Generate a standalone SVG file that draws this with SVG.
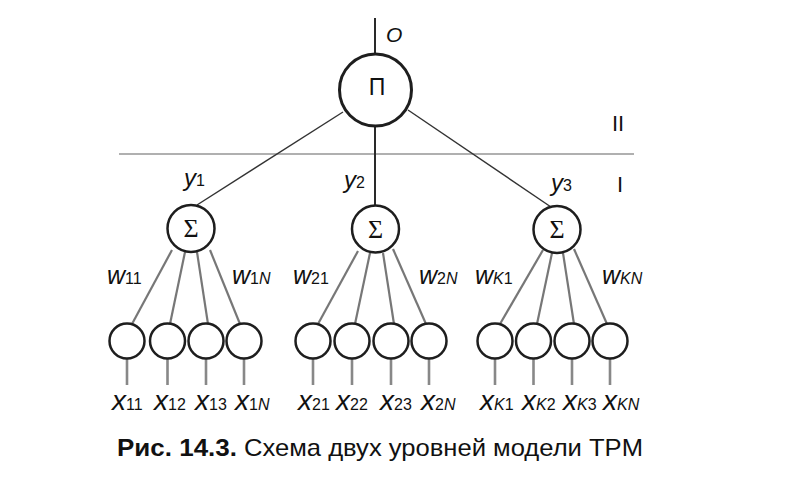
<svg xmlns="http://www.w3.org/2000/svg" width="800" height="478" viewBox="0 0 800 478">
<style>
  .bg{fill:#ffffff}
  .node{fill:#ffffff;stroke:#1e1e1e;stroke-width:2.5}
  .big{fill:#ffffff;stroke:#1e1e1e;stroke-width:3}
  .dark{stroke:#2a2a2a;stroke-width:2;fill:none}
  .thin{stroke:#333333;stroke-width:1.4;fill:none}
  .grey{stroke:#777777;stroke-width:2.2;fill:none}
  .stem{stroke:#888888;stroke-width:2.6;fill:none}
  .level{stroke:#b0b0b0;stroke-width:2;fill:none}
  .lab{font-family:"Liberation Sans",Arial,sans-serif;fill:#111111}
  .it{font-style:italic}
  .w{font-size:25px}
  .x{font-size:28px}
  .y{font-size:24px}
  .sub{font-size:16px;font-style:normal}
  .subi{font-size:16px;font-style:italic}
  .sig{font-family:"Liberation Serif","Times New Roman",serif;font-size:26px;fill:#111111}
  .cap{font-family:"Liberation Sans",Arial,sans-serif;font-size:24px;fill:#111111}
</style>
<rect class="bg" x="0" y="0" width="800" height="478"/>

<g id="connectors">
  <line class="dark" x1="375" y1="18" x2="375" y2="54"/>
  <line class="level" x1="119" y1="154" x2="634" y2="154"/>
  <line class="thin" x1="343" y1="112" x2="197" y2="205"/>
  <line class="dark" x1="375" y1="126" x2="375" y2="206"/>
  <line class="thin" x1="408" y1="110" x2="551" y2="207"/>
  <!-- group 1 -->
  <line class="grey" x1="172" y1="250" x2="132" y2="324"/>
  <line class="grey" x1="185" y1="252" x2="170" y2="324"/>
  <line class="grey" x1="197" y1="252" x2="208" y2="324"/>
  <line class="grey" x1="210" y1="250" x2="240" y2="324"/>
  <!-- group 2 -->
  <line class="grey" x1="358" y1="251" x2="318" y2="324"/>
  <line class="grey" x1="370" y1="253" x2="355" y2="324"/>
  <line class="grey" x1="383" y1="253" x2="394" y2="324"/>
  <line class="grey" x1="393" y1="249" x2="426" y2="324"/>
  <!-- group 3 -->
  <line class="grey" x1="543" y1="250" x2="500" y2="324"/>
  <line class="grey" x1="552" y1="253" x2="537" y2="324"/>
  <line class="grey" x1="563" y1="253" x2="574" y2="324"/>
  <line class="grey" x1="574" y1="249" x2="607" y2="324"/>
  <!-- input stems -->
  <line class="stem" x1="127" y1="358" x2="127" y2="385"/>
  <line class="stem" x1="167.5" y1="358" x2="167.5" y2="385"/>
  <line class="stem" x1="206" y1="358" x2="206" y2="385"/>
  <line class="stem" x1="244" y1="358" x2="244" y2="385"/>
  <line class="stem" x1="313" y1="358" x2="313" y2="385"/>
  <line class="stem" x1="352" y1="358" x2="352" y2="385"/>
  <line class="stem" x1="391" y1="358" x2="391" y2="385"/>
  <line class="stem" x1="429" y1="358" x2="429" y2="385"/>
  <line class="stem" x1="495" y1="358" x2="495" y2="385"/>
  <line class="stem" x1="533.5" y1="358" x2="533.5" y2="385"/>
  <line class="stem" x1="572" y1="358" x2="572" y2="385"/>
  <line class="stem" x1="610" y1="358" x2="610" y2="385"/>
</g>

<g id="labels-top">
  <text class="lab it" x="386" y="42" font-size="21">O</text>
  <text class="lab" x="612" y="131" font-size="22">II</text>
  <text class="lab" x="617" y="192" font-size="22">I</text>
  <text class="lab it y" x="184" y="186">y<tspan class="sub">1</tspan></text>
  <text class="lab it y" x="344" y="188">y<tspan class="sub">2</tspan></text>
  <text class="lab it y" x="551" y="191">y<tspan class="sub">3</tspan></text>
</g>

<g id="node-product">
  <circle class="big" cx="375.5" cy="90" r="36"/>
  <text class="lab" x="377" y="95" font-size="23" text-anchor="middle">Π</text>
</g>

<g id="node-sum1">
  <circle class="node" cx="191" cy="228.5" r="23.5"/>
  <text class="sig" x="191" y="237" text-anchor="middle">Σ</text>
</g>
<g id="node-sum2">
  <circle class="node" cx="375.5" cy="229" r="23.5"/>
  <text class="sig" x="375.5" y="237.5" text-anchor="middle">Σ</text>
</g>
<g id="node-sum3">
  <circle class="node" cx="557" cy="229.5" r="23.5"/>
  <text class="sig" x="557" y="238" text-anchor="middle">Σ</text>
</g>

<g id="weights">
  <text class="lab it w" x="107" y="284">w<tspan class="sub">11</tspan></text>
  <text class="lab it w" x="232" y="284">w<tspan class="sub">1</tspan><tspan class="subi">N</tspan></text>
  <text class="lab it w" x="293" y="284">w<tspan class="sub">21</tspan></text>
  <text class="lab it w" x="419" y="284">w<tspan class="sub">2</tspan><tspan class="subi">N</tspan></text>
  <text class="lab it w" x="475" y="284">w<tspan class="subi">K</tspan><tspan class="sub">1</tspan></text>
  <text class="lab it w" x="602" y="284">w<tspan class="subi">KN</tspan></text>
</g>

<g id="inputs-1">
  <g id="in-11"><circle class="node" cx="127" cy="341" r="17.5"/><text class="lab it x" x="112" y="410">x<tspan class="sub">11</tspan></text></g>
  <g id="in-12"><circle class="node" cx="167.5" cy="341" r="17.5"/><text class="lab it x" x="154" y="410">x<tspan class="sub">12</tspan></text></g>
  <g id="in-13"><circle class="node" cx="206" cy="341" r="17.5"/><text class="lab it x" x="195" y="410">x<tspan class="sub">13</tspan></text></g>
  <g id="in-1N"><circle class="node" cx="244" cy="341" r="17.5"/><text class="lab it x" x="235" y="410">x<tspan class="sub">1</tspan><tspan class="subi">N</tspan></text></g>
</g>
<g id="inputs-2">
  <g id="in-21"><circle class="node" cx="313" cy="341" r="17.5"/><text class="lab it x" x="298" y="410">x<tspan class="sub">21</tspan></text></g>
  <g id="in-22"><circle class="node" cx="352" cy="341" r="17.5"/><text class="lab it x" x="336" y="410">x<tspan class="sub">22</tspan></text></g>
  <g id="in-23"><circle class="node" cx="391" cy="341" r="17.5"/><text class="lab it x" x="380" y="410">x<tspan class="sub">23</tspan></text></g>
  <g id="in-2N"><circle class="node" cx="429" cy="341" r="17.5"/><text class="lab it x" x="421" y="410">x<tspan class="sub">2</tspan><tspan class="subi">N</tspan></text></g>
</g>
<g id="inputs-3">
  <g id="in-K1"><circle class="node" cx="495" cy="341" r="17.5"/><text class="lab it x" x="480" y="410">x<tspan class="subi">K</tspan><tspan class="sub">1</tspan></text></g>
  <g id="in-K2"><circle class="node" cx="533.5" cy="341" r="17.5"/><text class="lab it x" x="522" y="410">x<tspan class="subi">K</tspan><tspan class="sub">2</tspan></text></g>
  <g id="in-K3"><circle class="node" cx="572" cy="341" r="17.5"/><text class="lab it x" x="563" y="410">x<tspan class="subi">K</tspan><tspan class="sub">3</tspan></text></g>
  <g id="in-KN"><circle class="node" cx="610" cy="341" r="17.5"/><text class="lab it x" x="603" y="410">x<tspan class="subi">KN</tspan></text></g>
</g>

<g id="caption">
  <text class="cap" x="117" y="456" font-weight="bold" textLength="120" lengthAdjust="spacingAndGlyphs">Рис. 14.3.</text>
  <text class="cap" x="244" y="456" textLength="399" lengthAdjust="spacingAndGlyphs">Схема двух уровней модели TPM</text>
</g>
</svg>
